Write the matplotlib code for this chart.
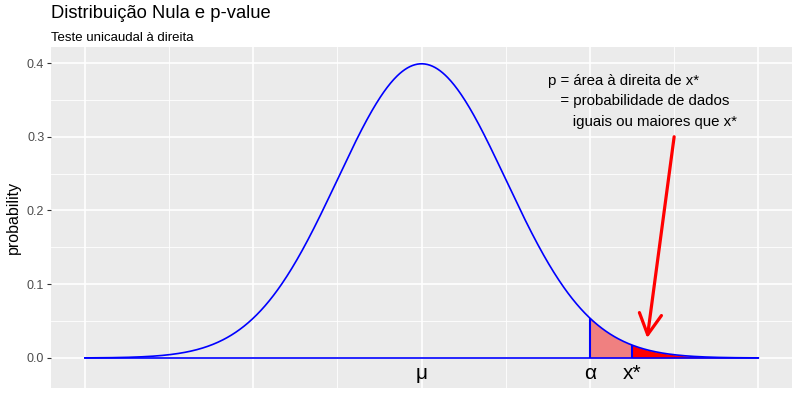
import numpy as np
import matplotlib
matplotlib.use("Agg")
import matplotlib.pyplot as plt

plt.rcParams['font.family'] = ['Liberation Sans', 'DejaVu Sans']

# null distribution: standard normal drawn from -4 to 4
mu = 0.0
sd = 1.0
x_range = [-4, 4]
alpha_x = 2.0      # critical value
xstar = 2.5        # observed statistic
x_marks = [0.0, 2.0, 2.5]
x_mark_labels = ['μ', 'α', 'x*']

title = 'Distribuição Nula e p-value'
subtitle = 'Teste unicaudal à direita'
note = 'p = área à direita de x*\n   = probabilidade de dados\n      iguais ou maiores que x*'


def dens(v):
    return np.exp(-0.5 * ((v - mu) / sd) ** 2) / (sd * np.sqrt(2 * np.pi))


x = np.linspace(x_range[0], x_range[1], 801)
y = dens(x)

fig = plt.figure(figsize=(8, 4), dpi=100)
ax = fig.add_axes([0.064, 0.03, 0.926, 0.8525])
ax.set_facecolor('#EBEBEB')

# grid like ggplot
for v in [-3, -1, 1, 3]:
    ax.axvline(v, color='white', lw=0.6, zorder=0)
for v in [-4, -2, 0, 2, 4]:
    ax.axvline(v, color='white', lw=1.2, zorder=0)
for v in [0.05, 0.15, 0.25, 0.35]:
    ax.axhline(v, color='white', lw=0.6, zorder=0)
for v in [0, 0.1, 0.2, 0.3, 0.4]:
    ax.axhline(v, color='white', lw=1.2, zorder=0)

# shaded areas
m1 = (x >= alpha_x) & (x <= xstar)
ax.fill_between(x[m1], 0, y[m1], color='#F08080', lw=0, zorder=2)
m2 = x >= xstar
ax.fill_between(x[m2], 0, y[m2], color='#FF0000', lw=0, zorder=2)
ax.vlines([alpha_x, xstar], 0, dens(np.array([alpha_x, xstar])), color='blue', lw=1.5, zorder=3)

ax.plot(x, y, color='blue', lw=1.2, zorder=4)
ax.plot(x_range, [0, 0], color='blue', lw=1.2, zorder=4)

for xm, lab in zip(x_marks, x_mark_labels):
    ax.text(xm, -0.021, lab, ha='center', va='center', fontsize=15, color='black')

ax.text(1.5, 0.348, note, ha='left', va='center', fontsize=10.8, color='black', linespacing=1.6)

ax.annotate('', xy=(2.68, 0.027), xytext=(3.0, 0.30),
            arrowprops=dict(arrowstyle='->,head_length=1.5,head_width=0.8', color='red', lw=2.3,
                            shrinkA=0, shrinkB=0))

ax.set_xlim(-4.4, 4.4)
ax.set_ylim(-0.0407, 0.4217)
ax.set_xticks([])
ax.set_yticks([0, 0.1, 0.2, 0.3, 0.4])
ax.set_yticklabels(['0.0', '0.1', '0.2', '0.3', '0.4'])
ax.tick_params(axis='y', length=3, width=0.8, color='#333333', labelsize=9, labelcolor='#4D4D4D', pad=2)
for s in ax.spines.values():
    s.set_visible(False)
ax.set_ylabel('probability', fontsize=11.5, color='black', labelpad=4)

fig.text(0.064, 0.955, title, fontsize=13.2, ha='left', va='baseline')
fig.text(0.064, 0.898, subtitle, fontsize=9.5, ha='left', va='baseline')

fig.savefig('out.png', dpi=100)
